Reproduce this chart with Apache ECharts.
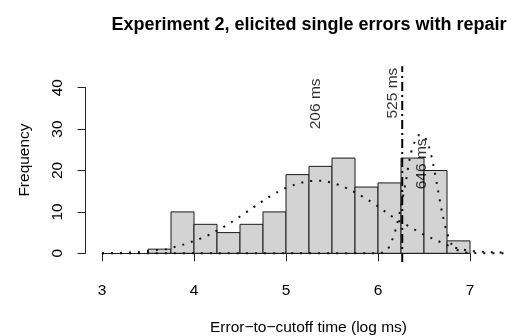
<!DOCTYPE html>
<html>
<head>
<meta charset="utf-8">
<script src="https://cdn.jsdelivr.net/npm/echarts@6/dist/echarts.min.js"></script>
<style>html,body{margin:0;padding:0;background:#fff;}#c{width:507px;height:336px;}</style>
</head>
<body>
<div id="c"></div>
<script>
// Histogram bins (log ms) and counts
var binStarts = [3.5, 3.75, 4.0, 4.25, 4.5, 4.75, 5.0, 5.25, 5.5, 5.75, 6.0, 6.25, 6.5, 6.75];
var binEnds   = [3.75, 4.0, 4.25, 4.5, 4.75, 5.0, 5.25, 5.5, 5.75, 6.0, 6.25, 6.5, 6.75, 7.0];
var counts    = [1, 10, 7, 5, 7, 10, 19, 21, 23, 16, 17, 23, 20, 3];

// Fitted density curve 1
var curve1X = [3.0,3.2,3.4,3.5,3.6,3.7,3.8,3.9,4.0,4.1,4.2,4.3,4.4,4.5,4.6,4.7,4.8,4.9,5.0,5.1,5.2,5.3,5.4,5.5,5.6,5.7,5.8,5.9,6.0,6.1,6.2,6.3,6.4,6.5,6.6,6.7,6.8,6.9,7.0,7.1,7.2,7.3,7.4];
var curve1Y = [0,0.1,0.3,0.55,0.8,1.0,1.6,2.2,3.0,3.8,4.9,6.1,7.4,8.9,10.4,11.9,13.4,14.7,15.8,16.6,17.2,17.5,17.5,17.0,16.3,15.3,14.1,12.8,11.3,9.7,8.2,7.0,5.7,4.5,3.5,2.5,1.6,1.0,0.6,0.4,0.3,0.2,0.15];

// Fitted density curve 2
var curve2X = [3.0,6.0,6.05,6.1,6.15,6.2,6.25,6.3,6.35,6.4,6.45,6.5,6.55,6.6,6.65,6.7,6.75,6.8,6.85,6.9,7.0,7.4];
var curve2Y = [0,0,0.2,0.8,3.0,6.4,11.3,17.0,23.5,27.0,28.6,28.3,26.0,21.5,15.5,9.5,5.0,2.2,1.0,0.5,0.1,0];

// Marked times (ms)
var markMs = [206, 525, 646];
var cutoffMs = 525;

var xTicks = [3, 4, 5, 6, 7];
var yTicks = [0, 10, 20, 30, 40];

var FONT = 'Liberation Sans, Arial, Helvetica, sans-serif';
var chart = echarts.init(document.getElementById('c'), null, {renderer: 'canvas'});

var histData = binStarts.map(function (s, i) { return [s, binEnds[i], counts[i]]; });
var c1 = curve1X.map(function (x, i) { return [x, curve1Y[i]]; });
var c2 = curve2X.map(function (x, i) { return [x, curve2Y[i]]; });
var cutX = Math.log(cutoffMs);
var labelPts = [
  {value: [Math.log(markMs[0]), 36.1], name: markMs[0] + ' ms'},
  {value: [Math.log(markMs[1]) - 0.1, 38.7], name: markMs[1] + ' ms'},
  {value: [Math.log(markMs[2]), 21.6], name: markMs[2] + ' ms'}
];

var option = {
  animation: false,
  backgroundColor: '#fff',
  textStyle: {fontFamily: FONT},
  grid: [
    {left: 102, width: 368, top: 87.7, height: 165.6, containLabel: false},
    {left: 102, width: 404.8, top: 87.7, height: 165.6, containLabel: false}
  ],
  xAxis: [{
    gridIndex: 0, type: 'value', min: xTicks[0], max: xTicks[xTicks.length - 1], interval: 1, offset: 9,
    axisLine: {show: true, lineStyle: {color: '#222', width: 1}},
    axisTick: {show: true, length: 8, lineStyle: {color: '#222'}},
    axisLabel: {fontSize: 15.5, color: '#000', margin: 20, fontFamily: FONT},
    splitLine: {show: false}
  }, {
    gridIndex: 1, type: 'value', min: 3, max: 7.4, show: false, splitLine: {show: false}
  }],
  yAxis: [{
    gridIndex: 0, type: 'value', min: yTicks[0], max: yTicks[yTicks.length - 1], interval: 10, offset: 16.5,
    axisLine: {show: true, lineStyle: {color: '#222', width: 1}},
    axisTick: {show: true, length: 8, lineStyle: {color: '#222'}},
    axisLabel: {fontSize: 15.5, color: '#000', margin: 20, rotate: 90, fontFamily: FONT},
    splitLine: {show: false}
  }, {
    gridIndex: 1, type: 'value', min: 0, max: 40, show: false, splitLine: {show: false}
  }],
  graphic: [
    {type: 'text', x: 309, y: 25, style: {text: 'Experiment 2, elicited single errors with repair', font: 'bold 18px ' + FONT, fill: '#000', textAlign: 'center', textVerticalAlign: 'middle'}},
    {type: 'text', x: 308.5, y: 328, style: {text: 'Error\u2212to\u2212cutoff time (log ms)', font: '15.5px ' + FONT, fill: '#000', textAlign: 'center', textVerticalAlign: 'middle'}},
    {type: 'text', x: 25, y: 160, rotation: Math.PI / 2, style: {text: 'Frequency', font: '15.5px ' + FONT, fill: '#000', textAlign: 'center', textVerticalAlign: 'middle'}}
  ],
  series: [
    {
      type: 'custom', xAxisIndex: 1, yAxisIndex: 1,
      data: histData,
      clip: false,
      renderItem: function (params, api) {
        var p0 = api.coord([api.value(0), 0]);
        var p1 = api.coord([api.value(1), api.value(2)]);
        return {
          type: 'rect',
          shape: {x: p0[0], y: p1[1], width: p1[0] - p0[0], height: p0[1] - p1[1]},
          style: {fill: '#d3d3d3', stroke: '#1a1a1a', lineWidth: 1}
        };
      },
      encode: {x: [0, 1], y: 2},
      z: 1
    },
    {
      type: 'line', xAxisIndex: 1, yAxisIndex: 1, data: c1, showSymbol: false, smooth: 0.3, clip: false,
      lineStyle: {color: '#111', width: 2, type: [2, 7]}, z: 3
    },
    {
      type: 'line', xAxisIndex: 1, yAxisIndex: 1, data: c2, showSymbol: false, smooth: 0.3, clip: false,
      lineStyle: {color: '#111', width: 2, type: [2, 7]}, z: 3
    },
    {
      type: 'line', xAxisIndex: 1, yAxisIndex: 1, data: [[cutX, -2.1], [cutX, 45.2]], showSymbol: false, clip: false,
      lineStyle: {color: '#000', width: 2, type: [9, 4, 2, 4]}, z: 4
    },
    {
      type: 'scatter', xAxisIndex: 1, yAxisIndex: 1, data: labelPts, symbolSize: 0, clip: false,
      label: {show: true, position: 'inside', rotate: 90, formatter: '{b}', fontSize: 15.5, color: '#000', fontFamily: FONT},
      z: 5
    }
  ]
};
chart.setOption(option);
</script>
</body>
</html>
